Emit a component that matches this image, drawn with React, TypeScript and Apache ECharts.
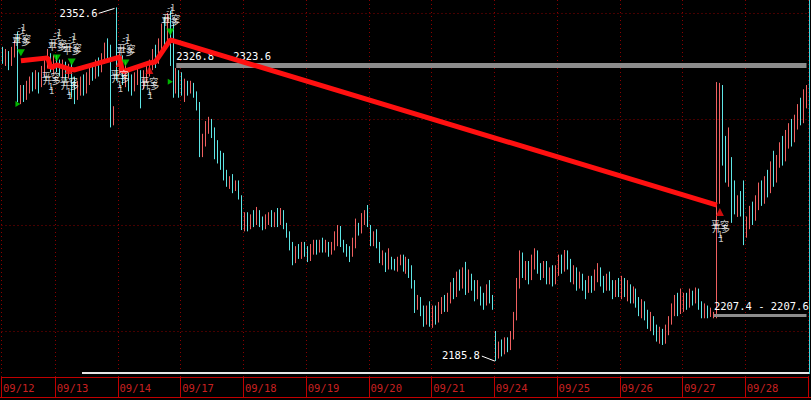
import React, { useEffect, useRef } from 'react';
import * as echarts from 'echarts';

const dayLabels = ['09/12', '09/13', '09/14', '09/17', '09/18', '09/19', '09/20', '09/21', '09/24', '09/25', '09/26', '09/27', '09/28'];

// each bar: [open, close, low, high]
const d0912 = [
  [2331, 2328, 2326, 2334], [2328, 2330, 2325, 2333], [2330, 2327, 2323, 2332], [2327, 2331, 2325, 2334],
  [2331, 2333, 2329, 2337], [2333, 2312, 2308, 2341], [2310, 2314, 2307, 2316], [2313, 2311, 2308, 2316],
  [2311, 2315, 2309, 2318], [2314, 2318, 2312, 2320], [2318, 2316, 2313, 2322], [2316, 2320, 2314, 2323],
  [2320, 2317, 2312, 2322], [2317, 2322, 2315, 2325], [2322, 2326, 2320, 2329], [2326, 2329, 2324, 2333],
  [2329, 2325, 2322, 2331], [2325, 2327, 2321, 2330],
];
const d0913 = [
  [2327, 2325, 2322, 2330], [2325, 2323, 2320, 2328], [2323, 2326, 2319, 2328], [2326, 2322, 2318, 2327],
  [2322, 2324, 2319, 2326], [2324, 2318, 2310, 2326], [2318, 2312, 2307, 2320], [2312, 2315, 2309, 2318],
  [2315, 2318, 2311, 2320], [2318, 2314, 2311, 2321], [2314, 2319, 2312, 2322], [2319, 2323, 2316, 2325],
  [2323, 2321, 2318, 2326], [2321, 2326, 2319, 2328], [2326, 2324, 2320, 2329], [2324, 2329, 2322, 2331],
  [2329, 2333, 2326, 2336], [2333, 2330, 2327, 2338], [2330, 2306, 2296, 2335], [2300, 2303, 2297, 2306],
  [2330, 2322, 2318, 2352.6],
];
const d0914 = [
  [2324, 2328, 2321, 2331], [2328, 2320, 2316, 2330], [2320, 2322, 2315, 2327], [2322, 2318, 2313, 2324],
  [2318, 2316, 2311, 2321], [2316, 2319, 2313, 2322], [2319, 2321, 2316, 2325], [2321, 2318, 2305, 2323],
  [2318, 2320, 2314, 2323], [2320, 2323, 2317, 2326], [2323, 2325, 2320, 2328], [2325, 2330, 2323, 2333],
  [2330, 2328, 2324, 2335], [2328, 2334, 2326, 2338], [2334, 2340, 2331, 2345], [2340, 2337, 2333, 2348],
  [2337, 2343, 2334, 2350], [2343, 2332, 2325, 2351], [2332, 2312, 2310, 2345], [2314, 2320, 2312, 2324],
  [2320, 2315, 2310, 2323],
];
const d0917 = [
  [2320, 2314, 2311, 2322], [2312, 2316, 2308, 2319], [2316, 2313, 2311, 2318], [2313, 2316, 2312, 2318],
  [2316, 2311, 2310, 2317], [2311, 2306, 2304, 2313], [2306, 2284, 2282, 2308], [2284, 2290, 2282, 2293],
  [2290, 2296, 2287, 2299], [2296, 2300, 2293, 2301], [2299, 2294, 2291, 2300], [2294, 2286, 2281, 2296],
  [2286, 2281, 2279, 2290], [2281, 2278, 2276, 2285], [2278, 2273, 2271, 2284], [2273, 2270, 2268, 2276],
  [2269, 2272, 2267, 2273], [2272, 2268, 2265, 2274], [2268, 2270, 2266, 2271], [2270, 2264, 2262, 2271],
  [2263, 2250, 2247.6, 2264],
];
const d0918 = [
  [2250, 2254, 2247, 2256], [2254, 2249, 2247, 2256], [2249, 2253, 2248, 2255], [2253, 2251, 2249, 2257],
  [2251, 2256, 2250, 2258.5], [2256, 2252, 2249, 2257], [2252, 2249, 2247.5, 2254], [2249, 2253, 2248, 2255],
  [2253, 2255, 2250, 2256], [2255, 2251, 2249, 2257], [2251, 2254, 2249, 2256], [2254, 2252, 2249, 2258],
  [2252, 2256, 2250, 2258], [2256, 2250, 2248, 2257], [2250, 2246, 2244, 2251], [2246, 2240, 2238, 2247],
  [2240, 2233, 2231, 2242], [2234, 2238, 2232, 2240], [2238, 2236, 2234, 2241], [2236, 2240, 2234, 2242],
  [2240, 2237, 2235, 2242],
];
const d0919 = [
  [2237, 2234, 2232.5, 2240], [2234, 2238, 2233, 2241], [2238, 2241, 2236, 2243], [2241, 2238, 2236, 2243],
  [2238, 2242, 2237, 2243], [2242, 2239, 2237, 2244], [2239, 2241, 2237, 2243], [2241, 2238, 2235, 2242],
  [2238, 2240, 2236, 2242], [2240, 2245, 2238, 2247], [2245, 2249, 2240, 2250], [2249, 2242, 2239.6, 2249.5],
  [2242, 2239, 2237, 2243], [2239, 2237, 2235, 2241], [2237, 2234, 2232.5, 2240], [2236, 2240, 2235, 2244],
  [2240, 2250, 2239, 2253], [2250, 2247, 2245, 2251], [2247, 2253, 2246, 2255.6], [2253, 2256, 2250, 2257],
  [2258, 2250, 2249, 2259.4],
];
const d0920 = [
  [2249, 2242, 2240, 2250], [2242, 2245, 2240, 2247], [2245, 2241, 2239, 2248], [2241, 2234, 2232, 2242],
  [2234, 2236, 2231, 2238], [2236, 2229, 2227.8, 2237], [2230, 2234, 2229, 2239], [2234, 2231, 2229, 2235],
  [2231, 2229, 2228.5, 2234], [2229, 2233, 2228, 2235], [2233, 2235, 2231, 2236], [2235, 2230, 2228, 2236],
  [2230, 2234, 2227, 2235], [2233, 2228, 2225, 2234], [2228, 2222, 2220, 2231], [2222, 2212, 2208.5, 2224],
  [2212, 2215, 2210, 2217], [2215, 2210, 2207, 2216], [2210, 2205, 2202, 2212], [2205, 2208, 2203, 2212],
  [2208, 2204, 2202, 2214],
];
const d0921 = [
  [2204, 2210, 2201.5, 2212], [2210, 2206, 2203, 2212], [2206, 2211, 2204, 2213.7], [2211, 2214, 2208, 2216],
  [2214, 2211, 2209, 2217], [2211, 2216, 2209, 2218], [2216, 2221, 2213, 2223], [2221, 2218, 2215, 2225],
  [2218, 2226, 2216, 2228], [2226, 2222, 2219, 2229], [2222, 2228, 2220, 2230], [2228, 2220, 2217, 2232.6],
  [2220, 2225, 2218, 2229], [2225, 2222, 2219, 2227], [2222, 2217, 2214, 2224], [2217, 2220, 2215, 2224],
  [2220, 2216, 2212, 2221], [2216, 2213, 2210, 2218], [2213, 2218, 2212, 2222], [2218, 2215, 2213, 2224],
  [2215, 2212, 2210, 2217],
];
const d0924 = [
  [2200, 2188, 2185.8, 2200], [2190, 2194, 2187, 2195], [2194, 2190, 2188, 2196], [2190, 2195, 2189, 2197],
  [2195, 2193, 2190, 2197], [2193, 2198, 2191, 2200], [2198, 2207, 2196, 2209], [2207, 2222, 2205, 2225],
  [2222, 2235, 2220, 2238], [2235, 2228, 2225, 2237], [2228, 2231, 2224, 2233], [2231, 2226, 2222, 2233],
  [2226, 2232, 2224, 2236], [2232, 2236, 2229, 2239], [2236, 2230, 2227, 2238], [2230, 2227, 2224, 2232],
  [2227, 2231, 2225, 2233], [2231, 2226, 2222, 2233], [2226, 2229, 2222, 2230], [2229, 2224, 2221, 2231],
  [2224, 2228, 2222, 2231],
];
const d0925 = [
  [2228, 2233, 2226, 2236], [2233, 2230, 2227, 2236], [2230, 2236, 2228, 2238.2], [2236, 2232, 2229, 2238],
  [2232, 2226, 2223, 2234], [2226, 2229, 2222, 2231], [2229, 2223, 2219, 2230], [2223, 2226, 2220, 2228],
  [2226, 2222, 2219, 2227], [2222, 2219, 2215, 2224], [2219, 2224, 2218, 2226], [2224, 2221, 2218, 2226],
  [2221, 2226, 2219, 2229], [2226, 2229, 2223, 2232], [2229, 2224, 2221, 2230], [2224, 2221, 2218, 2226],
  [2221, 2225, 2219, 2227], [2225, 2222, 2219, 2228], [2222, 2218, 2215, 2224], [2218, 2222, 2216, 2224],
  [2222, 2219, 2216, 2225],
];
const d0926 = [
  [2219, 2223, 2215, 2226], [2223, 2218, 2216, 2225], [2218, 2221, 2214, 2224], [2221, 2216, 2213, 2222],
  [2216, 2219, 2213, 2221], [2219, 2214, 2211, 2220], [2214, 2210, 2207, 2216], [2210, 2213, 2206, 2215],
  [2213, 2208, 2205, 2214], [2208, 2204, 2201, 2210], [2204, 2206, 2200, 2209], [2206, 2201, 2198, 2207],
  [2201, 2198, 2195, 2203], [2198, 2200, 2194, 2202], [2200, 2196, 2193.4, 2201], [2196, 2200, 2194, 2203],
  [2200, 2205, 2198, 2207], [2205, 2210, 2203, 2213], [2210, 2214, 2207, 2217], [2214, 2210, 2207, 2218],
  [2210, 2214, 2208, 2220],
];
const d0927 = [
  [2212, 2216, 2209, 2218], [2216, 2213, 2210, 2218], [2213, 2217, 2211, 2220], [2217, 2214, 2212, 2219],
  [2214, 2219, 2213, 2220.5], [2219, 2213, 2210, 2220], [2213, 2209, 2206, 2214], [2209, 2211, 2206, 2213],
  [2211, 2208, 2206, 2212], [2208, 2209, 2206.6, 2211], [2207.4, 2207.6, 2206, 2209], [2208, 2270, 2206, 2317.4],
  [2268, 2300, 2260, 2317], [2300, 2285, 2278, 2316], [2285, 2275, 2270, 2292], [2275, 2280, 2268, 2296],
  [2280, 2262, 2251, 2282], [2262, 2258, 2255, 2271], [2256, 2262, 2253.8, 2264], [2262, 2258, 2254, 2266],
  [2266, 2244, 2240.5, 2271],
];
const d0928 = [
  [2246, 2252, 2244, 2254], [2252, 2256, 2248, 2259], [2256, 2253, 2250, 2261], [2253, 2260, 2252, 2264],
  [2260, 2266, 2257, 2270], [2266, 2262, 2259, 2271], [2262, 2270, 2260, 2273], [2270, 2267, 2263, 2276],
  [2267, 2276, 2265, 2280], [2276, 2272, 2268, 2285], [2272, 2280, 2270, 2283], [2280, 2286, 2277, 2289],
  [2286, 2282, 2278, 2292], [2282, 2290, 2280, 2294.8], [2290, 2295, 2286, 2298], [2295, 2291, 2287, 2300],
  [2291, 2298, 2289, 2302], [2298, 2304, 2295, 2307], [2304, 2300, 2297, 2310], [2300, 2309, 2298, 2314],
  [2309, 2313, 2305, 2316],
];
const days = [d0912, d0913, d0914, d0917, d0918, d0919, d0920, d0921, d0924, d0925, d0926, d0927, d0928];

// zig-zag of the trading signals: [bar index, price]
const zigzag = [
  [6, 2327.4], [15, 2328.8], [16, 2324.1], [18, 2325.5], [22, 2323.6], [24, 2323.1], [39, 2329.2],
  [40, 2322.2], [49, 2326.4], [51, 2326.9], [56, 2337.3], [239, 2259.4],
];
const sellMarks = [[6, 2331.2], [18, 2328.8], [23, 2326.9], [41, 2326.4], [56, 2341]];
const buyMarks = [[16, 2325.5], [22, 2323.1], [39, 2326.4], [49, 2323.1], [240, 2256.1]];
const flagMarks = [[5, 2307], [56, 2317.5]];

// horizontal price levels
const gridLevels = [2350, 2300, 2250, 2200];
const band1 = { from: 58, low: 2323.6, high: 2326.8 };
const band2 = { from: 238, low: 2207.4, high: 2207.6 };

const Y_MIN = 2178.3;
const Y_MAX = 2356.1;

const MONO = 'DejaVu Sans Mono';
const CJK = 'Noto Sans CJK SC';

export default function App() {
  const ref = useRef<HTMLDivElement>(null);
  useEffect(() => {
    const candles: number[][] = [];
    const categories: string[] = [];
    const dayStart = new Set<number>();
    days.forEach((d, di) => {
      dayStart.add(candles.length);
      d.forEach((c, k) => {
        candles.push(c);
        categories.push(dayLabels[di] + '-' + k);
      });
    });
    const n = candles.length;
    const zz: (number | null)[] = new Array(n).fill(null);
    zigzag.forEach(([i, v]) => (zz[i] = v));

    let hiIdx = 0, loIdx = 0;
    candles.forEach((c, i) => {
      if (c[3] > candles[hiIdx][3]) hiIdx = i;
      if (c[2] < candles[loIdx][2]) loIdx = i;
    });
    const hiVal = candles[hiIdx][3];
    const loVal = candles[loIdx][2];

    const isStart = (i: number) => dayStart.has(i);
    const white = '#ffffff';

    const chart = echarts.init(ref.current!, null, { renderer: 'svg' });
    chart.setOption({
      animation: false,
      backgroundColor: '#000000',
      grid: { left: -1, top: 0, width: 809, height: 377 },
      xAxis: {
        type: 'category',
        data: categories,
        boundaryGap: true,
        axisLine: { show: true, lineStyle: { color: '#c00000', width: 1 } },
        axisTick: { show: true, interval: isStart, length: 20, lineStyle: { color: '#c00000' } },
        axisLabel: {
          show: true,
          interval: isStart,
          formatter: (v: string) => v.slice(0, 5),
          color: '#c82020',
          fontFamily: MONO,
          fontSize: 10.5,
          align: 'left',
          margin: 5,
        },
        splitLine: { show: true, interval: isStart, lineStyle: { color: '#8c0000', type: [1, 3], width: 1 } },
      },
      yAxis: { type: 'value', min: Y_MIN, max: Y_MAX, show: false, splitLine: { show: false } },
      series: [
        {
          type: 'candlestick',
          data: candles,
          barWidth: 1,
          z: 2,
          itemStyle: {
            color: '#f06060',
            color0: '#5ee6e6',
            borderColor: '#f06060',
            borderColor0: '#5ee6e6',
            borderWidth: 1,
          },
          markLine: {
            silent: true,
            z: 1,
            symbol: ['none', 'none'],
            label: { show: false },
            lineStyle: { color: '#8c0000', type: [1, 3], width: 1 },
            data: gridLevels.map((v) => ({ yAxis: v })),
          },
          markPoint: {
            symbol: 'circle',
            symbolSize: 0,
            z: 7,
            data: [
              {
                coord: [hiIdx, hiVal],
                label: { show: true, formatter: hiVal.toFixed(1), position: 'left', distance: 19, offset: [0, 6], color: white, fontFamily: MONO, fontSize: 10.5 },
              },
              {
                coord: [loIdx, loVal],
                label: { show: true, formatter: loVal.toFixed(1), position: 'left', distance: 16, offset: [0, -6], color: white, fontFamily: MONO, fontSize: 10.5 },
              },
            ],
          },
        },
        {
          type: 'line',
          data: zz,
          connectNulls: true,
          symbol: 'none',
          z: 4,
          lineStyle: { color: '#ff1010', width: 5 },
          markLine: {
            silent: true,
            z: 3,
            symbol: ['none', 'none'],
            data: [
              [
                {
                  coord: [band1.from, (band1.low + band1.high) / 2],
                  lineStyle: { color: '#8c8c8c', width: 5, type: 'solid' },
                  label: { show: true, position: 'insideStartTop', distance: [0, 4], formatter: band1.high.toFixed(1) + '   ' + band1.low.toFixed(1), color: white, fontFamily: MONO, fontSize: 10.5 },
                },
                { coord: [n - 1, (band1.low + band1.high) / 2] },
              ],
              [
                {
                  coord: [band2.from, (band2.low + band2.high) / 2],
                  lineStyle: { color: '#8c8c8c', width: 3, type: 'solid' },
                  label: { show: true, position: 'insideStartTop', distance: [0, 4], formatter: band2.low.toFixed(1) + ' - ' + band2.high.toFixed(1), color: white, fontFamily: MONO, fontSize: 10.5 },
                },
                { coord: [n - 1, (band2.low + band2.high) / 2] },
              ],
            ],
          },
        },
        {
          type: 'scatter',
          data: sellMarks,
          symbol: 'triangle',
          symbolRotate: 180,
          symbolSize: [8, 7],
          z: 6,
          itemStyle: { color: '#00e000' },
          label: { show: true, position: 'top', distance: 2, formatter: '-1\n平多', color: white, fontFamily: CJK, fontSize: 9, lineHeight: 11 },
        },
        {
          type: 'scatter',
          data: sellMarks,
          symbol: 'triangle',
          symbolSize: [8, 7],
          z: 6,
          itemStyle: { color: 'transparent' },
          label: { show: true, position: 'top', distance: 2, offset: [1, -3], formatter: '-1\n开空', color: white, fontFamily: CJK, fontSize: 9, lineHeight: 11 },
        },
        {
          type: 'scatter',
          data: buyMarks,
          symbol: 'triangle',
          symbolSize: [8, 8],
          z: 6,
          itemStyle: { color: '#ff1010' },
          label: { show: true, position: 'bottom', distance: 3, formatter: '平空\n1', color: white, fontFamily: CJK, fontSize: 9, lineHeight: 10 },
        },
        {
          type: 'scatter',
          data: buyMarks,
          symbol: 'triangle',
          symbolSize: [8, 8],
          z: 6,
          itemStyle: { color: 'transparent' },
          label: { show: true, position: 'bottom', distance: 3, offset: [1, 4], formatter: '开多\n1', color: white, fontFamily: CJK, fontSize: 9, lineHeight: 10 },
        },
        {
          type: 'scatter',
          data: flagMarks,
          symbol: 'triangle',
          symbolRotate: -90,
          symbolSize: [6, 5],
          z: 6,
          itemStyle: { color: '#00e000' },
        },
      ],
    });

    const hp = chart.convertToPixel({ gridIndex: 0 }, [hiIdx, hiVal]) as number[];
    const lp = chart.convertToPixel({ gridIndex: 0 }, [loIdx, loVal]) as number[];
    chart.setOption({
      graphic: [
        { type: 'line', silent: true, shape: { x1: hp[0] - 18, y1: hp[1] + 6, x2: hp[0] - 2, y2: hp[1] + 1 }, style: { stroke: white, lineWidth: 1 } },
        { type: 'line', silent: true, shape: { x1: lp[0] - 14, y1: lp[1] - 5, x2: lp[0] - 1, y2: lp[1] }, style: { stroke: white, lineWidth: 1 } },
        { type: 'rect', silent: true, shape: { x: 82, y: 372, width: 727, height: 2 }, style: { fill: '#e6e6e6' } },
        { type: 'line', silent: true, shape: { x1: 809.5, y1: 0, x2: 809.5, y2: 374 }, style: { stroke: '#40d8e0', lineWidth: 1 } },
        { type: 'line', silent: true, shape: { x1: 0, y1: 397.5, x2: 811, y2: 397.5 }, style: { stroke: '#c00000', lineWidth: 1 } },
      ],
    });
    return () => chart.dispose();
  }, []);
  return (
    <div
      ref={ref}
      style={{ position: 'fixed', left: 0, top: 0, width: 811, height: 400, background: '#000000' }}
    />
  );
}
